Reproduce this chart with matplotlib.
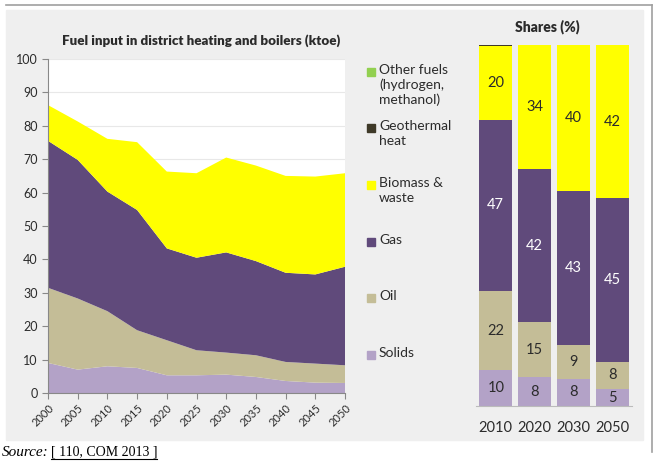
import numpy as np
import matplotlib
matplotlib.use("Agg")
import matplotlib.pyplot as plt
from matplotlib.patches import Rectangle
from matplotlib.lines import Line2D

plt.rcParams['font.family'] = ['Lato', 'DejaVu Sans']

# area chart data (ktoe)
years = [2000, 2005, 2010, 2015, 2020, 2025, 2030, 2035, 2040, 2045, 2050]
solids = [9.0, 7.0, 8.0, 7.5, 5.3, 5.3, 5.5, 4.8, 3.6, 3.1, 3.0]
oil = [22.5, 21.3, 16.5, 11.3, 10.5, 7.5, 6.6, 6.5, 5.7, 5.7, 5.3]
gas = [44.0, 41.5, 35.8, 36.0, 27.5, 27.7, 30.0, 28.2, 26.7, 26.7, 29.5]
biomass = [10.7, 11.5, 15.8, 20.3, 23.0, 25.3, 28.4, 28.6, 29.0, 29.3, 28.0]
geothermal = [0, 0, 0, 0, 0, 0, 0, 0, 0, 0, 0]

# shares (%)
share_years = ['2010', '2020', '2030', '2050']
share_solids = [9.9, 7.9, 7.6, 4.6]
share_oil = [22.0, 15.4, 9.3, 7.7]
share_gas = [47.4, 42.3, 42.7, 45.3]
share_biomass = [20.3, 34.4, 40.4, 42.4]
share_geo = [0.4, 0, 0, 0]

c_solids = '#B3A2C7'
c_oil = '#C4BD97'
c_gas = '#604A7B'
c_geo = '#3F3A28'
c_bio = '#FFFF00'
c_other = '#92D050'
txt = '#2B2B2B'

W, H = 658, 461
fig = plt.figure(figsize=(W / 100, H / 100), dpi=100)
fig.patch.set_facecolor('white')


def fx(px):
    return px / W


def fy(py):
    return 1 - py / H


# grey panel + border lines
fig.patches.append(Rectangle((fx(6), fy(440)), fx(643) - fx(6), fy(10) - fy(440),
                             transform=fig.transFigure, color='#EFEFEF', zorder=-10))
fig.lines.append(Line2D([fx(6), fx(652)], [fy(5), fy(5)], transform=fig.transFigure,
                        color='#A0A0A0', lw=1.2))
fig.lines.append(Line2D([fx(651.5), fx(651.5)], [fy(5), fy(452)], transform=fig.transFigure,
                        color='#A0A0A0', lw=1.2))

# left: stacked area
ax = fig.add_axes([fx(48), fy(393), fx(345) - fx(48), fy(59) - fy(393)])
ax.set_facecolor('white')
ax.stackplot(years, solids, oil, gas, biomass, geothermal,
             colors=[c_solids, c_oil, c_gas, c_bio, c_geo], linewidth=0)
ax.set_xlim(2000, 2050)
ax.set_ylim(0, 100)
ax.set_yticks(range(0, 101, 10))
ax.set_xticks(years)
ax.set_xticklabels([str(y) for y in years], rotation=45, ha='right',
                   rotation_mode='anchor', fontsize=8, color=txt)
ax.tick_params(axis='y', labelsize=9, labelcolor=txt, length=4, color='#888888', width=0.8)
ax.tick_params(axis='x', length=4, color='#888888', width=0.8, pad=3)
ax.grid(axis='y', color='#E8E8E8', lw=0.8)
ax.set_axisbelow(True)
for s in ['top', 'right']:
    ax.spines[s].set_visible(False)
for s in ['left', 'bottom']:
    ax.spines[s].set_color('#888888')
    ax.spines[s].set_linewidth(0.8)

fig.text(fx(201), fy(41), 'Fuel input in district heating and boilers (ktoe)',
         ha='center', va='center', fontsize=9.6, fontweight='heavy', color=txt)

# legend
legend_items = [
    (c_other, 'Other fuels\n(hydrogen,\nmethanol)', 72),
    (c_geo, 'Geothermal\nheat', 128),
    (c_bio, 'Biomass &\nwaste', 185),
    (c_gas, 'Gas', 242),
    (c_oil, 'Oil', 298),
    (c_solids, 'Solids', 355),
]
for col, label, py in legend_items:
    fig.patches.append(Rectangle((fx(367), fy(py + 4)), fx(8), fy(0) - fy(8),
                                 transform=fig.transFigure, color=col))
    fig.text(fx(379), fy(py - 8), label, ha='left', va='top', fontsize=10,
             color=txt, linespacing=1.25)

# right: shares bars
ax2 = fig.add_axes([fx(476), fy(406), fx(632) - fx(476), fy(45) - fy(406)])
ax2.set_facecolor('none')
x = np.arange(len(share_years))
bw = 0.85
bottom = np.zeros(len(x))
segments = [(share_solids, c_solids, txt), (share_oil, c_oil, txt),
            (share_gas, c_gas, 'white'), (share_biomass, c_bio, txt),
            (share_geo, c_geo, None)]
for vals, col, lc in segments:
    vals = np.array(vals, dtype=float)
    ax2.bar(x, vals, bw, bottom=bottom, color=col, linewidth=0)
    if lc is not None:
        for xi, v, b in zip(x, vals, bottom):
            ax2.text(xi, b + v / 2, f'{v:.0f}', ha='center', va='center',
                     fontsize=10.5, color=lc)
    bottom += vals
ax2.set_xlim(-0.51, 3.51)
ax2.set_ylim(0, 100)
ax2.set_yticks([])
ax2.set_xticks(x)
ax2.set_xticklabels(share_years, fontsize=10.5, color=txt)
ax2.tick_params(axis='x', length=0, pad=11)
for s in ['top', 'right', 'left']:
    ax2.spines[s].set_visible(False)
ax2.spines['bottom'].set_color('#BBBBBB')

fig.text(fx(547), fy(27), 'Shares (%)', ha='center', va='center', fontsize=10,
         fontweight='heavy', color=txt)

# source line
fig.text(fx(2), fy(452), 'Source:', ha='left', va='center', fontsize=11,
         family='Liberation Serif', style='italic', color='black')
fig.text(fx(51), fy(452), '[ 110, COM 2013 ]', ha='left', va='center', fontsize=10,
         family='Liberation Serif', color='black')
fig.lines.append(Line2D([fx(51), fx(157)], [fy(459), fy(459)], transform=fig.transFigure,
                        color='black', lw=0.8))

fig.savefig('out.png', dpi=100)
